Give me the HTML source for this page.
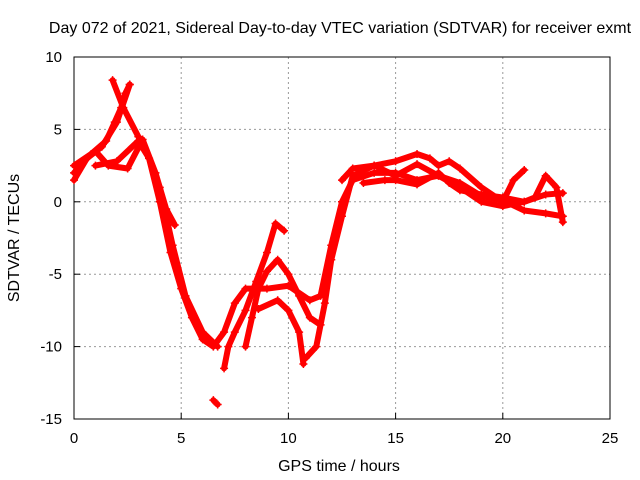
<!DOCTYPE html>
<html><head><meta charset="utf-8"><style>
body{margin:0;background:#fff}
svg{display:block;font-family:"Liberation Sans",sans-serif}
</style></head><body>
<svg width="640" height="480">
<rect width="640" height="480" fill="#fff"/>
<text x="340" y="33" font-size="16" text-anchor="middle">Day 072 of 2021, Sidereal Day-to-day VTEC variation (SDTVAR) for receiver exmt</text>
<g id="grid"></g>
<g id="axes"></g>
<g id="series"></g>
<text x="339" y="471" font-size="16" text-anchor="middle">GPS time / hours</text>
<text transform="translate(19,238) rotate(-90)" font-size="16" text-anchor="middle">SDTVAR / TECUs</text>
</svg>
<script>
const xTicks=[0,5,10,15,20,25];
const yTicks=[10,5,0,-5,-10,-15];
const trackA=[[0,2],[0.8,3.3],[1.5,4.2],[1.9,5.5],[2.2,6.5],[2.4,7.5],[2.6,8.1]];
const trackB=[[1.8,8.4],[2.3,6.5],[3,4.5],[3.5,3],[4,0],[4.5,-3.5],[5,-6],[5.5,-8],[6,-9.5],[6.5,-10],[7,-9],[7.5,-7],[8,-6],[9,-6],[10,-5.8],[11,-6.8],[11.5,-6.5],[12,-3],[12.5,0],[13,1.5],[14,2],[15,2],[16,1.5],[17,1.8],[18,1],[19,0],[20,-0.3],[21,0],[22,0.5],[22.8,0.6]];
const trackC=[[0,2.5],[1,3.5],[1.6,2.5],[2.5,2.3],[3.2,4.3],[3.8,2],[4.3,-0.5],[4.7,-1.6]];
const trackD=[[2.6,8.1],[2,5.5],[1.3,3.8],[0.6,3],[0,1.5]];
const trackE=[[1,2.5],[2,2.8],[3,4.2],[3.5,3],[4,1],[4.6,-3],[5.2,-6.5],[6,-9],[6.7,-10]];
const trackF=[[6.5,-13.7],[6.7,-14]];
const trackG=[[7,-11.5],[7.2,-10],[7.5,-9],[8,-7.5],[8.5,-5.5],[9,-3.5],[9.4,-1.5],[9.8,-2]];
const trackH=[[8,-10],[8.3,-8],[8.6,-6],[9,-4.8],[9.5,-4],[10,-5],[10.5,-6.5],[11,-8],[11.5,-8.5]];
const trackI=[[8.6,-7.4],[9.5,-6.8],[10,-7.5],[10.5,-9],[10.7,-11.2]];
const trackJ=[[10.8,-10.8],[11.3,-10],[11.7,-7],[12,-4],[12.5,-1],[13,1.8],[14,2.5],[15,2.8],[16,3.3],[16.6,3],[17,2.5],[17.5,2.8],[18,2.3],[19,1],[20,0],[20.5,1.5],[21,2.2]];
const trackK=[[13.5,1.3],[14.5,1.5],[15,1.5],[16,1.2],[17,2],[17.5,1.3],[18,0.8],[19,0.5],[20,0.3],[21,0],[21.5,0.3],[22,1.8],[22.5,1],[22.8,-1.4]];
const trackL=[[12.5,1.5],[13,2.3],[14,2.5],[15,1.8],[16,2.6],[17,1.8],[18,1.3],[19,0.4],[20,0.1],[21,-0.6],[22,-0.8],[22.8,-1]];
const tracks=[trackA,trackB,trackC,trackD,trackE,trackF,trackG,trackH,trackI,trackJ,trackK,trackL];
const X0=74,X1=610,Y0=419,Y1=57;
const sx=v=>X0+(v-0)/25*(X1-X0);
const sy=v=>Y0-(v+15)/25*(Y0-Y1);
const NS='http://www.w3.org/2000/svg';
function mk(t,a,p){const e=document.createElementNS(NS,t);for(const k in a)e.setAttribute(k,a[k]);p.appendChild(e);return e;}
const grid=document.getElementById('grid'),axes=document.getElementById('axes'),ser=document.getElementById('series');
xTicks.forEach(t=>{
 if(t>0&&t<25){const l=mk('line',{x1:sx(t),x2:sx(t),y1:Y0,y2:Y1,stroke:'#999','stroke-dasharray':'2,3'},grid);
 
 }
 const tk=mk('line',{x1:sx(t),x2:sx(t),y1:Y0,y2:Y0-6,stroke:'#000'},axes);
 
 
 const tx=mk('text',{x:sx(t),y:Y0+24,'font-size':15,'text-anchor':'middle'},axes);tx.textContent=t;
 
 
});
yTicks.forEach(t=>{
 if(t>-15&&t<10){const l=mk('line',{x1:X0,x2:X1,y1:sy(t),y2:sy(t),stroke:'#999','stroke-dasharray':'2,3'},grid);
 
 }
 const tk=mk('line',{x1:X0,x2:X0+6,y1:sy(t),y2:sy(t),stroke:'#000'},axes);
 
 
 const tx=mk('text',{x:X0-12,y:sy(t)+5,'font-size':15,'text-anchor':'end'},axes);tx.textContent=t;
 
 
});
const fr=mk('rect',{x:X0,y:Y1,width:X1-X0,height:Y0-Y1,fill:'none',stroke:'#000'},axes);


tracks.forEach((tr,i)=>{
 const pl=mk('polyline',{points:tr.map(p=>sx(p[0])+','+sy(p[1])).join(' '),fill:'none',stroke:'#f00','stroke-width':6,'stroke-linejoin':'round','stroke-linecap':'round'},ser);
 
 
 tr.forEach(p=>{
  const m=mk('path',{d:`M${sx(p[0])-4},${sy(p[1])}h8M${sx(p[0])},${sy(p[1])-4}v8`,stroke:'#f00','stroke-width':1.5},ser);
  
  
 });
});
</script>
</body></html>
